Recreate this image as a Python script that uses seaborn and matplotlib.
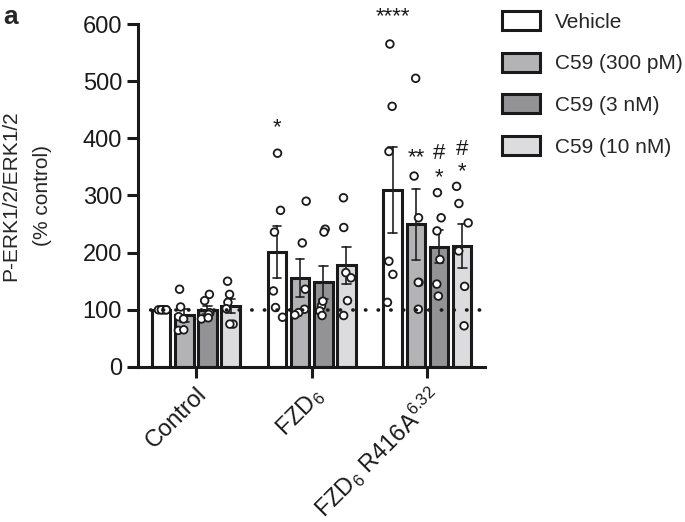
import numpy as np
import pandas as pd
import matplotlib
matplotlib.use('Agg')
import matplotlib.pyplot as plt
from matplotlib.patches import Patch
import seaborn as sns

# Data (n = 6 per condition)
groups = ['Control', 'FZD$_6$', 'FZD$_6$ R416A$^{6.32}$']
treatments = ['Vehicle', 'C59 (300 pM)', 'C59 (3 nM)', 'C59 (10 nM)']

control_vehicle = [100, 100, 100, 100, 100, 100]
control_c59_300pm = [136, 105, 88, 84, 64, 65]
control_c59_3nm = [127, 116, 95, 92, 84, 86]
control_c59_10nm = [150, 127, 113, 75, 75, 102]

fzd6_vehicle = [374, 274, 236, 133, 104, 87]
fzd6_c59_300pm = [290, 217, 136, 101, 95, 91]
fzd6_c59_3nm = [241, 236, 107, 98, 90, 115]
fzd6_c59_10nm = [296, 244, 165, 156, 116, 90]

mut_vehicle = [565, 456, 377, 185, 162, 113]
mut_c59_300pm = [505, 334, 261, 148, 148, 101]
mut_c59_3nm = [305, 261, 238, 188, 145, 124]
mut_c59_10nm = [316, 286, 252, 203, 141, 72]

# significance labels: (group, treatment, text, y)
sig_labels = [
    (1, 0, '*', 418),
    (2, 0, '****', 612),
    (2, 1, '**', 366),
    (2, 2, '#', 374),
    (2, 2, '*', 332),
    (2, 3, '#', 380),
    (2, 3, '*', 341),
]

palette = ['#ffffff', '#b3b3b6', '#939396', '#dcdcde']

values = [
    [control_vehicle, control_c59_300pm, control_c59_3nm, control_c59_10nm],
    [fzd6_vehicle, fzd6_c59_300pm, fzd6_c59_3nm, fzd6_c59_10nm],
    [mut_vehicle, mut_c59_300pm, mut_c59_3nm, mut_c59_10nm],
]
rows = []
for g, per_group in zip(groups, values):
    for t, vals in zip(treatments, per_group):
        for v in vals:
            rows.append({'group': g, 'treatment': t, 'value': v})
df = pd.DataFrame(rows)

sns.set_style('ticks')
plt.rcParams['font.family'] = ['Liberation Sans', 'DejaVu Sans']
plt.rcParams['mathtext.fontset'] = 'custom'
plt.rcParams['mathtext.rm'] = 'Liberation Sans'
plt.rcParams['mathtext.default'] = 'regular'

fig = plt.figure(figsize=(6.85, 5.22), dpi=100)
ax = fig.add_axes([0.2015, 0.297, 0.507, 0.657])

sns.barplot(data=df, x='group', y='value', hue='treatment', order=groups,
            hue_order=treatments, palette=palette, errorbar='se',
            width=0.8, gap=0.2, capsize=0.3, edgecolor='#1a1a1a',
            linewidth=2.2, err_kws={'color': '#222222', 'linewidth': 1.2},
            legend=False, ax=ax, zorder=2)

np.random.seed(3)
sns.stripplot(data=df, x='group', y='value', hue='treatment', order=groups,
              hue_order=treatments, palette=['white'] * 4, dodge=True,
              jitter=0.22, size=5.5, edgecolor='#1a1a1a', linewidth=1.3,
              legend=False, ax=ax, zorder=3)

ax.axhline(100, color='#1a1a1a', linestyle=(0, (0.1, 3.4)), linewidth=2.6,
           dash_capstyle='round', zorder=4)

offsets = [-0.3, -0.1, 0.1, 0.3]
for gi, ti, txt, y in sig_labels:
    ax.text(gi + offsets[ti], y, txt, ha='center', va='center',
            fontsize=16, color='#1a1a1a', clip_on=False)

ax.set_xlim(-0.5, 2.5)
ax.set_ylim(0, 600)
ax.set_yticks(range(0, 601, 100))
ax.set_xlabel('')
ax.set_ylabel('P-ERK1/2/ERK1/2\n(% control)', fontsize=15, labelpad=22,
              linespacing=1.85)
ax.tick_params(axis='both', labelsize=17, width=2.2, length=8, color='#1a1a1a',
               labelcolor='#1a1a1a')
ax.set_xticks(range(3))
ax.set_xticklabels(groups, rotation=45, ha='right', rotation_mode='anchor',
                   fontsize=17)
for side in ['left', 'bottom']:
    ax.spines[side].set_linewidth(2.2)
    ax.spines[side].set_color('#1a1a1a')
sns.despine(ax=ax)

handles = [Patch(facecolor=c, edgecolor='#1a1a1a', linewidth=2.2) for c in palette]
fig.legend(handles, treatments, loc='upper left', bbox_to_anchor=(0.721, 0.995),
           frameon=False, fontsize=15, handlelength=1.8, handleheight=1.05,
           labelspacing=1.0, handletextpad=0.75, borderaxespad=0)

fig.text(0.005, 0.99, 'a', fontsize=19, fontweight='bold', va='top', ha='left')

fig.savefig('out.png', dpi=100)
